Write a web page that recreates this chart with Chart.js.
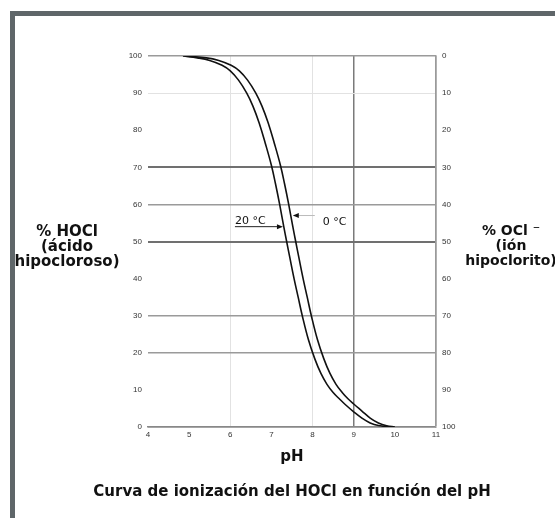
<!DOCTYPE html>
<html>
<head>
<meta charset="utf-8">
<script src="https://cdn.jsdelivr.net/npm/chart.js@4"></script>
<style>
  html, body { margin: 0; padding: 0; background: #fff; }
  #wrap { position: relative; width: 555px; height: 518px; }
  #frame {
    position: absolute; left: 10px; top: 11px; right: 0; bottom: 0;
    border-left: 5px solid #5f6669; border-top: 5px solid #5f6669;
  }
  canvas { position: absolute; left: 0; top: 0; }
</style>
</head>
<body>
<div id="wrap">
  <div id="frame"></div>
  <canvas id="chart" width="555" height="518"></canvas>
</div>
<script>
// pH vs % HOCl (20 °C curve, left one)
const ph20 = [4.85, 5.2, 5.5, 5.8, 6.0, 6.2, 6.4, 6.55, 6.7, 6.85, 7.0, 7.1, 7.2, 7.3, 7.37, 7.45, 7.55, 7.65, 7.75, 7.9, 8.05, 8.2, 8.35, 8.5, 8.65, 8.8, 9.0, 9.2, 9.4, 9.6, 9.9];
const hocl20 = [100, 99.5, 98.8, 97.5, 96, 93.5, 90, 86.5, 82, 76.5, 70.5, 65.5, 60, 54, 50, 45.5, 40, 35, 30, 23.5, 18.5, 14.5, 11.5, 9.3, 7.6, 6, 4.1, 2.4, 1.1, 0.4, 0];
// 0 °C curve, right one
const ph0 = [4.9, 5.42, 5.72, 6.02, 6.22, 6.42, 6.62, 6.77, 6.92, 7.07, 7.22, 7.32, 7.42, 7.52, 7.59, 7.67, 7.77, 7.87, 7.97, 8.12, 8.27, 8.42, 8.57, 8.72, 8.86, 9.0, 9.2, 9.4, 9.6, 9.8, 10.0];
const hocl0 = [100, 99.5, 98.8, 97.5, 96, 93.5, 90, 86.5, 82, 76.5, 70.5, 65.5, 60, 54, 50, 45.5, 40, 35, 30, 23.5, 18.5, 14.5, 11.5, 9.3, 7.6, 6.2, 4.3, 2.4, 1.1, 0.35, 0];

const seriesNames = ["20 °C", "0 °C"];
const leftLabel = ["% HOCl", "(ácido", "hipocloroso)"];
const rightLabel = ["% OCl ⁻", "(ión", "hipoclorito)"];
const xTitle = "pH";
const chartTitle = "Curva de ionización del HOCl en función del pH";

// where the little arrows point, in data units (pH, % HOCl)
const arrow20 = [7.28, 54];
const arrow0 = [7.52, 57];

const FONT = "'Liberation Sans', Arial, sans-serif";
const BOLD = "'DejaVu Sans', Verdana, sans-serif";

function toPoints(xs, ys) {
  return xs.map((x, i) => ({ x: x, y: ys[i] }));
}

/* grid styling per tick value, like the scanned figure */
const yGridColor = { 100: "#9a9a9a", 90: "#e2e2e2", 70: "#707070", 60: "#9a9a9a", 50: "#707070", 30: "#9a9a9a", 20: "#9a9a9a", 0: "#888" };
const yGridWidth = { 100: 1.5, 90: 1, 70: 2, 60: 1.5, 50: 2, 30: 1.5, 20: 1.5, 0: 1.5 };
const xGridColor = { 6: "#e2e2e2", 8: "#e2e2e2", 9: "#7a7a7a", 11: "#9a9a9a" };
const xGridWidth = { 6: 1, 8: 1, 9: 1.5, 11: 1.5 };

const sideText = {
  id: "sideText",
  afterDraw(chart) {
    const ctx = chart.ctx;
    const xs = chart.scales.x;
    const ys = chart.scales.y;
    const area = chart.chartArea;
    ctx.save();
    ctx.fillStyle = "#111";
    ctx.textAlign = "center";
    ctx.textBaseline = "middle";
    ctx.font = "bold 15px " + BOLD;
    leftLabel.forEach((t, i) => ctx.fillText(t, 67, 232 + i * 15));
    ctx.font = "bold 14px " + BOLD;
    rightLabel.forEach((t, i) => ctx.fillText(t, 511, 231 + i * 15));

    // title under the axis
    ctx.font = "bold 15px " + BOLD;
    ctx.fillText(chartTitle, (area.left + area.right) / 2, 492);

    // 20 °C label with arrow pointing right to the curve
    ctx.font = "11px " + BOLD;
    let tx = xs.getPixelForValue(arrow20[0]);
    let ty = ys.getPixelForValue(arrow20[1]);
    ctx.strokeStyle = "#222";
    ctx.lineWidth = 1;
    ctx.beginPath();
    ctx.moveTo(tx - 48, ty);
    ctx.lineTo(tx - 3, ty);
    ctx.stroke();
    ctx.beginPath();
    ctx.moveTo(tx, ty);
    ctx.lineTo(tx - 6, ty - 2.5);
    ctx.lineTo(tx - 6, ty + 2.5);
    ctx.closePath();
    ctx.fill();
    ctx.textAlign = "left";
    ctx.fillText(seriesNames[0], tx - 48, ty - 6);

    // 0 °C label with arrow pointing left to the curve
    tx = xs.getPixelForValue(arrow0[0]);
    ty = ys.getPixelForValue(arrow0[1]);
    ctx.strokeStyle = "#bbb";
    ctx.beginPath();
    ctx.moveTo(tx + 3, ty);
    ctx.lineTo(tx + 22, ty);
    ctx.stroke();
    ctx.beginPath();
    ctx.moveTo(tx, ty);
    ctx.lineTo(tx + 6, ty - 2.5);
    ctx.lineTo(tx + 6, ty + 2.5);
    ctx.closePath();
    ctx.fill();
    ctx.fillText(seriesNames[1], tx + 30, ty + 7);
    ctx.restore();
  }
};

const chart = new Chart(document.getElementById("chart"), {
  type: "line",
  data: {
    datasets: [
      {
        label: seriesNames[0],
        data: toPoints(ph20, hocl20),
        borderColor: "#111",
        borderWidth: 1.6,
        pointRadius: 0,
        tension: 0.4,
        yAxisID: "y"
      },
      {
        label: seriesNames[1],
        data: toPoints(ph0, hocl0),
        borderColor: "#111",
        borderWidth: 1.6,
        pointRadius: 0,
        tension: 0.4,
        yAxisID: "y"
      }
    ]
  },
  options: {
    responsive: false,
    animation: false,
    layout: { padding: { top: 56, left: 0, right: 0, bottom: 0 } },
    plugins: {
      legend: { display: false },
      tooltip: { enabled: false }
    },
    scales: {
      x: {
        type: "linear",
        min: 4,
        max: 11,
        ticks: { stepSize: 1, color: "#333", font: { family: FONT, size: 8 }, padding: 3 },
        grid: {
          drawTicks: false,
          color: (c) => xGridColor[c.tick.value] || "rgba(0,0,0,0)",
          lineWidth: (c) => xGridWidth[c.tick.value] || 0
        },
        border: { display: true, color: "#888", width: 1.5 },
        title: {
          display: true,
          text: xTitle,
          color: "#111",
          font: { family: BOLD, size: 15, weight: "bold" },
          padding: { top: 8, bottom: 52 }
        },
        afterFit: (s) => { s.height = 91; }
      },
      y: {
        position: "left",
        min: 0,
        max: 100,
        ticks: { stepSize: 10, color: "#333", font: { family: FONT, size: 8 }, padding: 6 },
        grid: {
          drawTicks: false,
          color: (c) => yGridColor[c.tick.value] || "rgba(0,0,0,0)",
          lineWidth: (c) => yGridWidth[c.tick.value] || 0
        },
        border: { display: false },
        afterFit: (s) => { s.width = 148; }
      },
      y2: {
        position: "right",
        min: 0,
        max: 100,
        reverse: true,
        ticks: { stepSize: 10, color: "#333", font: { family: FONT, size: 8 }, padding: 6 },
        grid: { display: false, drawTicks: false },
        border: { display: true, color: "#9a9a9a", width: 1.5 },
        afterFit: (s) => { s.width = 119; }
      }
    }
  },
  plugins: [sideText]
});
</script>
</body>
</html>
